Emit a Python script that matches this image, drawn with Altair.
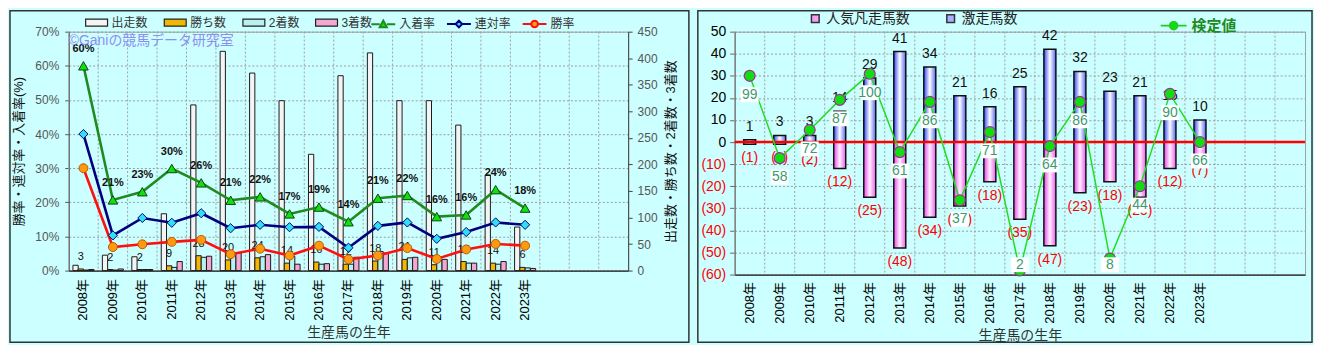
import altair as alt
import pandas as pd

FONT = "Liberation Sans, Noto Sans CJK JP"

# ---------------- data ----------------
years = ["2008年", "2009年", "2010年", "2011年", "2012年", "2013年", "2014年", "2015年",
         "2016年", "2017年", "2018年", "2019年", "2020年", "2021年", "2022年", "2023年"]
empty_slots = ["_1", "_2", "_3"]
slots = years + empty_slots

# left chart: counts (right axis)
starts = [10, 29, 26, 107, 312, 413, 372, 320, 219, 367, 410, 320, 320, 274, 180, 82]
wins = [3, 2, 2, 9, 28, 20, 24, 14, 16, 12, 18, 21, 11, 17, 14, 6]
seconds = [1, 1, 2, 6, 25, 31, 26, 27, 12, 12, 36, 24, 19, 14, 12, 5]
thirds = [2, 3, 2, 17, 27, 33, 30, 12, 13, 25, 33, 25, 21, 14, 17, 4]
# left chart: rates in % (left axis)
place_rate = [60.0, 20.7, 23.1, 29.9, 25.7, 20.6, 21.6, 16.6, 18.6, 14.3, 21.2, 22.0, 15.8, 16.3, 23.7, 18.3]
rentai_rate = [40.0, 10.3, 15.4, 14.0, 16.8, 12.4, 13.4, 12.7, 12.8, 6.7, 13.1, 14.1, 9.3, 11.3, 14.1, 13.4]
win_rate = [30.0, 6.9, 7.7, 8.4, 9.0, 4.8, 6.4, 4.4, 7.3, 3.3, 4.4, 6.6, 3.4, 6.2, 7.8, 7.3]

# right chart
gekiso = [1, 3, 3, 14, 29, 41, 34, 21, 16, 25, 42, 32, 23, 21, 15, 10]      # 激走馬数
bonso = [1, 1, 2, 12, 25, 48, 34, 29, 18, 35, 47, 23, 18, 25, 12, 7]        # 人気凡走馬数
kentei = [99, 58, 72, 87, 100, 61, 86, 37, 71, 2, 64, 86, 8, 44, 90, 66]    # 検定値

bar_names = ["出走数", "勝ち数", "2着数", "3着数"]
rate_names = ["入着率", "連対率", "勝率"]
right_bar_names = ["人気凡走馬数", "激走馬数"]
kentei_name = ["検定値"]

# ---------------- tables ----------------
bar_values = {"出走数": starts, "勝ち数": wins, "2着数": seconds, "3着数": thirds}
df_bars = pd.DataFrame([{"year": y, "series": s, "value": v}
                        for s in bar_names for y, v in zip(years, bar_values[s])])
rate_values = {"入着率": place_rate, "連対率": rentai_rate, "勝率": win_rate}
df_rates = pd.DataFrame([{"year": y, "series": s, "rate": v}
                         for s in rate_names for y, v in zip(years, rate_values[s])])
df_r = pd.DataFrame({"year": years, "gek": gekiso, "bon": bonso, "k": kentei})

# ---------------- styles ----------------
bar_colors = ["#F4F4F4", "#F2B705", "#B9F1F1", "#F3A7D3"]
line_colors = {"入着率": "#1E8B1E", "連対率": "#00007F", "勝率": "#FF1010"}
marker_shape = {"入着率": "triangle-up", "連対率": "diamond", "勝率": "circle"}
marker_fill = {"入着率": "#10E010", "連対率": "#30E0F0", "勝率": "#FF9A10"}
marker_stroke = {"入着率": "#114411", "連対率": "#00007F", "勝率": "#B85A00"}
marker_size = {"入着率": 95, "連対率": 85, "勝率": 80}
leg_paths = [
    "M-1,0H-0.3M0.3,0H1M-0.3,0.26L0,-0.3L0.3,0.26Z",
    "M-1,0H-0.28M0.28,0H1M0,-0.28L0.28,0L0,0.28L-0.28,0Z",
    "M-1,0H-0.28M0.28,0H1M-0.28,0A0.28,0.28,0,1,0,0.28,0A0.28,0.28,0,1,0,-0.28,0Z",
]

LABEL_EXPR = "indexof(datum.label, '年') >= 0 ? datum.label : ''"
XSCALE = alt.Scale(domain=slots, paddingInner=0, paddingOuter=0)
XOFF = alt.XOffset("series:N", scale=alt.Scale(domain=bar_names, paddingInner=0, paddingOuter=0.8))


def x_axis(pad):
    return alt.Axis(title="生産馬の生年", labelAngle=270, labelExpr=LABEL_EXPR, ticks=False,
                    domainColor="#222", domainWidth=1.2, labelFontSize=13, labelColor="#000",
                    labelPadding=pad, titleFontSize=14, titleColor="#333",
                    titleFontWeight="normal", titlePadding=5, grid=False)


def xl(axis=None):
    return alt.X("year:N", scale=XSCALE, axis=axis)


def xgrid():
    return alt.X("year:N", bandPosition=0, scale=XSCALE, axis=None)


# ================= LEFT CHART =================
COUNT_SCALE = alt.Scale(domain=[0, 450], nice=False)
COUNT_AXIS = alt.Axis(orient="right", values=list(range(0, 451, 50)), grid=False,
                      title="出走数・勝ち数・2着数・3着数", titleAngle=270, titleBaseline="top",
                      titleFontSize=13, titleColor="#111", titleFontWeight="normal", titlePadding=8,
                      labelFontSize=12, labelColor="#555", tickSize=4, labelPadding=5,
                      domainColor="#444", tickColor="#444")
RATE_SCALE = alt.Scale(domain=[0, 70], nice=False)
RATE_AXIS = alt.Axis(orient="left", values=list(range(0, 71, 10)), labelExpr="datum.value + '%'",
                     grid=True, gridColor="#9a9a9a", gridDash=[2, 2],
                     title="勝率・連対率・入着率(%)", titleFontSize=13, titleFontWeight="normal",
                     titleColor="#111", titlePadding=9, labelFontSize=12, labelColor="#555",
                     tickSize=4, labelPadding=6, domainColor="#555", tickColor="#555")

BAR_LEGEND_L = alt.Legend(orient="none", legendX=16, legendY=-21, direction="horizontal",
                          title=None, symbolType="M-1,-0.32H1V0.32H-1Z", symbolSize=484,
                          symbolStrokeColor="#222", symbolStrokeWidth=1.2, labelFontSize=12,
                          labelColor="#333", columnPadding=13, labelOffset=3)
LINE_LEGEND = alt.Legend(orient="none", legendX=303, legendY=-21, direction="horizontal",
                         title=None, symbolSize=576, symbolStrokeWidth=2, symbolOpacity=1,
                         labelFontSize=12, labelColor="#333", columnPadding=7, labelOffset=3)

frame_L = alt.Chart(pd.DataFrame({"f": [0]})).mark_rect(
    fillOpacity=0, stroke="#333", strokeWidth=1.5).encode(
    x=alt.value(-59), x2=alt.value(623), y=alt.value(-21), y2=alt.value(312))

vgrid_L = alt.Chart(pd.DataFrame({"year": slots})).mark_rule(
    color="#a0a0a0", strokeDash=[2, 2], strokeWidth=1).encode(x=xgrid())

bars_L = alt.Chart(df_bars).mark_bar(stroke="#1a1a1a", strokeWidth=1).encode(
    x=xl(x_axis(8)),
    xOffset=XOFF,
    y=alt.Y("value:Q", scale=COUNT_SCALE, axis=COUNT_AXIS),
    fill=alt.Fill("series:N", scale=alt.Scale(domain=bar_names, range=bar_colors),
                  legend=BAR_LEGEND_L),
)
win_lbl = alt.Chart(df_bars).transform_filter(alt.datum.series == "勝ち数").mark_text(
    baseline="middle", dy=-12, fontSize=11, color="#111").encode(
    x=xl(), xOffset=XOFF, y=alt.Y("value:Q", scale=COUNT_SCALE, axis=None), text="value:Q")

rate_layers = []
for i, name in enumerate(rate_names):
    rate_layers.append(
        alt.Chart(df_rates).transform_filter(alt.datum.series == name).mark_line(
            color=line_colors[name], strokeWidth=2.6).encode(
            x=xl(), y=alt.Y("rate:Q", scale=RATE_SCALE, axis=RATE_AXIS if i == 0 else None)))
for name in rate_names:
    rate_layers.append(
        alt.Chart(df_rates).transform_filter(alt.datum.series == name).mark_point(
            shape=marker_shape[name], filled=True, fill=marker_fill[name],
            stroke=marker_stroke[name], strokeWidth=1, size=marker_size[name], opacity=1).encode(
            x=xl(), y=alt.Y("rate:Q", scale=RATE_SCALE, axis=None)))
place_lbl = alt.Chart(df_rates).transform_filter(alt.datum.series == "入着率").transform_calculate(
    lbl="format(datum.rate, '.0f') + '%'").mark_text(
    dy=-17, fontSize=11, fontWeight="bold", color="#111").encode(
    x=xl(), y=alt.Y("rate:Q", scale=RATE_SCALE, axis=None), text="lbl:N")
leg_L = alt.Chart(pd.DataFrame({"lseries": rate_names})).mark_point(filled=True, opacity=0).encode(
    shape=alt.Shape("lseries:N", scale=alt.Scale(domain=rate_names, range=leg_paths), legend=LINE_LEGEND),
    color=alt.Color("lseries:N", scale=alt.Scale(domain=rate_names, range=[marker_fill[n] for n in rate_names]),
                    legend=LINE_LEGEND),
    stroke=alt.Stroke("lseries:N", scale=alt.Scale(domain=rate_names, range=[line_colors[n] for n in rate_names]),
                      legend=LINE_LEGEND),
)
watermark = alt.Chart(pd.DataFrame({"t": ["©Ganiの競馬データ研究室"]})).mark_text(
    align="left", baseline="middle", color="#8E8EF2", fontSize=14).encode(
    x=alt.value(0), y=alt.value(9), text="t:N")

left = alt.layer(vgrid_L, bars_L, win_lbl, *rate_layers, place_lbl, leg_L, watermark, frame_L
                 ).resolve_scale(x="independent", y="independent").properties(width=562, height=240)

# ================= RIGHT CHART =================
YR_SCALE = alt.Scale(domain=[-60, 50], nice=False)
YR_AXIS = alt.Axis(orient="left", values=list(range(-60, 51, 10)),
                   labelExpr="datum.value < 0 ? '(' + abs(datum.value) + ')' : '' + datum.value",
                   labelColor={"condition": {"test": "datum.value < 0", "value": "#FF0000"}, "value": "#000000"},
                   grid=True, gridColor="#9a9a9a", gridDash=[2, 2], title=None, labelFontSize=14,
                   tickSize=5, labelPadding=4, domainColor="#666", tickColor="#666")
K_SCALE = alt.Scale(domain=[0, 121], nice=False)

blue_grad = alt.LinearGradient(gradient="linear", x1=0, x2=1, y1=0, y2=0, stops=[
    alt.GradientStop(color="#3347F2", offset=0), alt.GradientStop(color="#FFFFFF", offset=0.5),
    alt.GradientStop(color="#5466F4", offset=1)])
pink_grad = alt.LinearGradient(gradient="linear", x1=0, x2=1, y1=0, y2=0, stops=[
    alt.GradientStop(color="#E845E8", offset=0), alt.GradientStop(color="#FFF0FF", offset=0.5),
    alt.GradientStop(color="#EC5CEC", offset=1)])

frame_R = alt.Chart(pd.DataFrame({"f": [0]})).mark_rect(
    fillOpacity=0, stroke="#333", strokeWidth=1.5).encode(
    x=alt.value(-37), x2=alt.value(580), y=alt.value(-21), y2=alt.value(312))

vgrid_R = alt.Chart(pd.DataFrame({"year": slots})).mark_rule(
    color="#a0a0a0", strokeDash=[2, 2], strokeWidth=1).encode(x=xgrid())

pos_bars = alt.Chart(df_r).mark_bar(width=alt.RelativeBandSize(0.4), fill=blue_grad,
                                    stroke="#111", strokeWidth=1.5).encode(
    x=xl(x_axis(7)), y=alt.Y("gek:Q", scale=YR_SCALE, axis=YR_AXIS))
neg_bars = alt.Chart(df_r).transform_calculate(neg="-datum.bon").mark_bar(
    width=alt.RelativeBandSize(0.4), fill=pink_grad, stroke="#111", strokeWidth=1.5).encode(
    x=xl(), y=alt.Y("neg:Q", scale=YR_SCALE, axis=None))
pos_lbl = alt.Chart(df_r).mark_text(baseline="bottom", dy=-6, fontSize=14, color="#111").encode(
    x=xl(), y=alt.Y("gek:Q", scale=YR_SCALE, axis=None), text="gek:Q")
neg_lbl = alt.Chart(df_r).transform_calculate(neg="-datum.bon", nl="'(' + datum.bon + ')'").mark_text(
    baseline="top", dy=7, fontSize=14, color="#FF0000").encode(
    x=xl(), y=alt.Y("neg:Q", scale=YR_SCALE, axis=None), text="nl:N")
zero_rule = alt.Chart(pd.DataFrame({"z": [0]})).mark_rule(color="#FF0000", strokeWidth=2.5).encode(
    y=alt.Y("z:Q", scale=YR_SCALE, axis=None))

leg_R = alt.Chart(pd.DataFrame({"bs": right_bar_names})).mark_point(
    filled=True, opacity=0, shape="square").encode(
    fill=alt.Fill("bs:N", scale=alt.Scale(domain=right_bar_names, range=["#F5A0F5", "#A8B0FF"]),
                  legend=alt.Legend(orient="none", legendX=74, legendY=-20, direction="horizontal",
                                    title=None, symbolType="square", symbolSize=60,
                                    symbolStrokeColor="#333", symbolStrokeWidth=1.5, symbolOpacity=1,
                                    labelFontSize=14, labelColor="#222", columnPadding=34, labelOffset=4)))

K_LEGEND = alt.Legend(orient="none", legendX=427, legendY=-20, direction="horizontal", title=None,
                      symbolSize=676, symbolStrokeWidth=1.8, symbolOpacity=1, labelFontSize=15,
                      labelFontWeight="bold", labelColor="#1E8B1E", labelOffset=4)
k_path = "M-1,0H-0.3M0.3,0H1M-0.3,0A0.3,0.3,0,1,0,0.3,0A0.3,0.3,0,1,0,-0.3,0Z"
leg_K = alt.Chart(pd.DataFrame({"ks": kentei_name})).mark_point(filled=True, opacity=0).encode(
    shape=alt.Shape("ks:N", scale=alt.Scale(domain=kentei_name, range=[k_path]), legend=K_LEGEND),
    color=alt.Color("ks:N", scale=alt.Scale(domain=kentei_name, range=["#10DD10"]), legend=K_LEGEND),
    stroke=alt.Stroke("ks:N", scale=alt.Scale(domain=kentei_name, range=["#22CC22"]), legend=K_LEGEND),
)

k_line = alt.Chart(df_r).mark_line(color="#22DD22", strokeWidth=1.5).encode(
    x=xl(), y=alt.Y("k:Q", scale=K_SCALE, axis=None))
k_pts = alt.Chart(df_r).mark_point(shape="circle", filled=True, fill="#11DD11", stroke="#993399",
                                   strokeWidth=1.2, size=120, opacity=1).encode(
    x=xl(), y=alt.Y("k:Q", scale=K_SCALE, axis=None))
k_box = alt.Chart(df_r).transform_calculate(
    ly="max(datum.k - 9.4, 4.9)").transform_calculate(
    b1="datum.ly + 3.7", b2="datum.ly - 3.7").mark_bar(
    width=alt.RelativeBandSize(0.6), fill="#FFFFFF", opacity=1).encode(
    x=xl(), y=alt.Y("b1:Q", scale=K_SCALE, axis=None), y2="b2:Q")
k_txt = alt.Chart(df_r).transform_calculate(ly="max(datum.k - 9.4, 4.9)").mark_text(
    fontSize=14, color="#3A9A72", baseline="middle").encode(
    x=xl(), y=alt.Y("ly:Q", scale=K_SCALE, axis=None), text="k:Q")

right = alt.layer(vgrid_R, pos_bars, neg_bars, zero_rule, pos_lbl, neg_lbl,
                  k_line, k_pts, k_box, k_txt, leg_R, leg_K, frame_R
                  ).resolve_scale(x="independent", y="independent").properties(width=573, height=244)

chart = alt.hconcat(left, right, spacing=5).resolve_scale(
    fill="independent", color="independent", stroke="independent", shape="independent"
).properties(background="#CCFFFF", padding=0).configure_view(
    fill="#FAEEDB", stroke="#A0A0A0").configure_axis(
    labelFont=FONT, titleFont=FONT).configure_legend(labelFont=FONT).configure_text(font=FONT)

chart.save("out.html", embed_options={"renderer": "svg", "actions": False})
